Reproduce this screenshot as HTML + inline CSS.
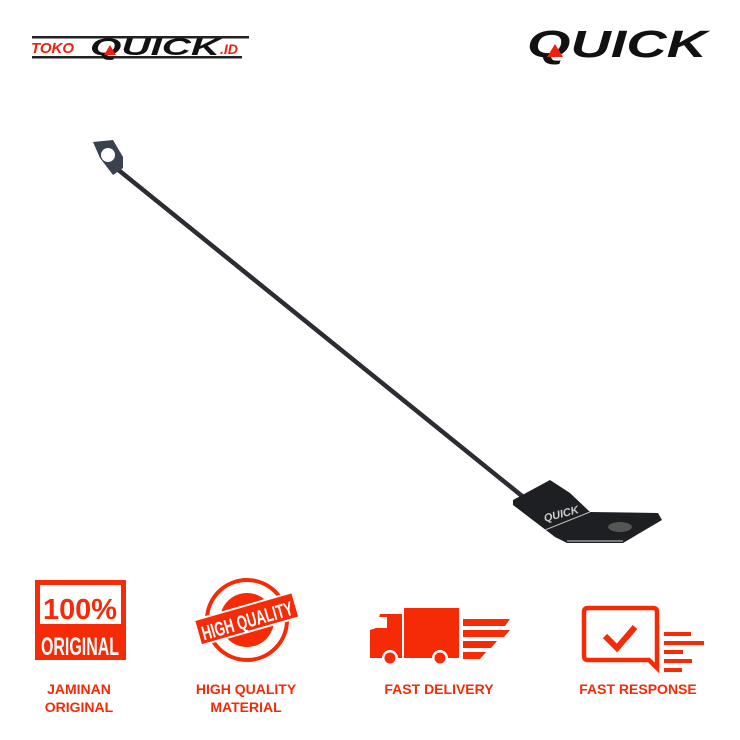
<!DOCTYPE html>
<html><head><style>body{margin:0;background:#fff}svg{display:block}</style></head><body>
<svg width="740" height="740" viewBox="0 0 740 740" xmlns="http://www.w3.org/2000/svg" font-family="Liberation Sans, sans-serif">
<rect width="740" height="740" fill="#fff"/>
<!-- top-left logo -->
<rect x="32" y="36" width="217" height="2.5" fill="#222"/>
<rect x="32" y="56" width="210" height="2.5" fill="#222"/>
<text x="31" y="53" font-size="15" font-weight="bold" font-style="italic" fill="#f02010">TOKO</text>
<text x="90" y="55" font-size="24" font-weight="900" font-style="italic" fill="#111" textLength="130" lengthAdjust="spacingAndGlyphs">QUICK</text>
<polygon points="104,55 110,45 116,55" fill="#f02010"/>
<text x="220" y="54" font-size="14" font-weight="bold" font-style="italic" fill="#f02010">.ID</text>
<!-- top-right logo -->
<text x="527" y="57" font-size="38" font-weight="900" font-style="italic" fill="#111" textLength="180" lengthAdjust="spacingAndGlyphs">QUICK</text>
<polygon points="547,57 555,44 563,57" fill="#f02010"/>
<!-- rod -->
<line x1="116" y1="168" x2="522" y2="496" stroke="#2b2d33" stroke-width="4.5" stroke-linecap="round"/>
<polygon points="93,142 113,140 123,157 123,168 113,175 100,158" fill="#3a4250"/>
<circle cx="108" cy="155" r="7" fill="#fff"/>
<polygon points="513,500 550,480 570,493 590,512 658,513 662,520 623,543 567,543 555,537 513,505" fill="#1e1f22"/>
<line x1="545" y1="530" x2="590" y2="512" stroke="#bbb" stroke-width="1"/>
<text x="545" y="522" font-size="11" font-weight="bold" font-style="italic" fill="#ccc" transform="rotate(-15 545 522)">QUICK</text>
<ellipse cx="620" cy="527" rx="12" ry="5" fill="#555"/>
<line x1="567" y1="541" x2="623" y2="541" stroke="#999" stroke-width="1.5"/>
<!-- 100% original -->
<rect x="35" y="580" width="91" height="80" fill="#f52a06"/>
<rect x="40" y="585" width="81" height="39" fill="#fff"/>
<text x="80" y="619" font-size="29" font-weight="bold" fill="#f52a06" text-anchor="middle" textLength="74" lengthAdjust="spacingAndGlyphs">100%</text>
<text x="80" y="655" font-size="25" font-weight="bold" fill="#fff" text-anchor="middle" textLength="78" lengthAdjust="spacingAndGlyphs">ORIGINAL</text>
<!-- high quality -->
<circle cx="247" cy="620" r="40" fill="none" stroke="#f52a06" stroke-width="4"/>
<circle cx="247" cy="620" r="27" fill="#f52a06"/>
<g transform="rotate(-16 246 620)"><rect x="196" y="606" width="102" height="26" fill="#f52a06" stroke="#fff" stroke-width="2"/>
<text x="247" y="628" font-size="20" font-weight="bold" fill="#fff" text-anchor="middle" textLength="94" lengthAdjust="spacingAndGlyphs">HIGH QUALITY</text></g>
<text x="247" y="600" font-size="8" fill="#f52a06" text-anchor="middle">★★★</text>
<text x="252" y="687" font-size="8" fill="#f52a06" text-anchor="middle"></text>
<!-- truck -->
<rect x="404" y="608" width="55" height="50" fill="#f52a06"/>
<path d="M376 628 L380 614 L402 614 L402 658 L370 658 L370 630 Z" fill="#f52a06"/>
<rect x="375" y="617" width="12" height="11" fill="#fff"/>
<circle cx="390" cy="658" r="8" fill="#fff"/><circle cx="390" cy="658" r="5.5" fill="#f52a06"/>
<circle cx="440" cy="658" r="8" fill="#fff"/><circle cx="440" cy="658" r="5.5" fill="#f52a06"/>
<polygon points="463,630 510,630 504,637 463,637" fill="#f52a06"/>
<polygon points="463,641 497,641 491,648 463,648" fill="#f52a06"/>
<polygon points="463,652 486,652 480,659 463,659" fill="#f52a06"/>
<polygon points="463,619 510,619 505,626 463,626" fill="#f52a06"/>
<!-- response -->
<path d="M585 630 L585 673 L660 673 L665 683 L665 630 Z" fill="none"/>
<path d="M587 631 L655 630 L658 678 L662 688 L650 678 L588 690 Z" fill="none"/>
<path d="M584 631 q0-4 4-4 h65 q4 0 4 4 v56 l-8 -8 h-61 q-4 0 -4-4 Z" transform="translate(0,-19)" fill="none" stroke="#f52a06" stroke-width="4.5"/>
<polyline points="605,636 617,648 635,627" fill="none" stroke="#f52a06" stroke-width="6"/>
<rect x="664" y="632" width="27" height="4" fill="#f52a06"/>
<rect x="664" y="641" width="40" height="4" fill="#f52a06"/>
<rect x="664" y="650" width="19" height="4" fill="#f52a06"/>
<rect x="664" y="659" width="28" height="4" fill="#f52a06"/>
<rect x="664" y="668" width="18" height="4" fill="#f52a06"/>
<!-- labels -->
<g font-size="14" font-weight="bold" fill="#f52a06" text-anchor="middle">
<text x="79" y="694">JAMINAN</text><text x="79" y="712">ORIGINAL</text>
<text x="246" y="694">HIGH QUALITY</text><text x="246" y="712">MATERIAL</text>
<text x="439" y="694">FAST DELIVERY</text>
<text x="638" y="694">FAST RESPONSE</text>
</g>
</svg>
</body></html>
